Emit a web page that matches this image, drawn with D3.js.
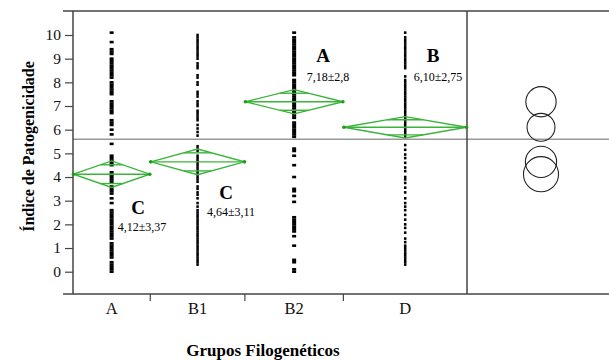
<!DOCTYPE html>
<html>
<head>
<meta charset="utf-8">
<script src="https://cdn.jsdelivr.net/npm/d3@7"></script>
<style>
  body { margin: 0; background: #fff; }
  svg { display: block; font-family: 'Liberation Serif', 'Times New Roman', serif; }
</style>
</head>
<body>
<div id="chart"></div>
<script>
const groups = ['A', 'B1', 'B2', 'D'];
// group sizes (JMP draws the x axis proportional to n)
const groupSizes = [40, 49, 51, 64];
const means = [4.12, 4.64, 7.18, 6.10];
const ciHalf = [0.56, 0.54, 0.51, 0.45];
const circleRadius = [0.74, 0.66, 0.64, 0.59];
const letters = ['C', 'C', 'A', 'B'];
const statLabels = ['4,12±3,37', '4,64±3,11', '7,18±2,8', '6,10±2,75'];
const grandMean = 5.6;
const yTicks = [0, 1, 2, 3, 4, 5, 6, 7, 8, 9, 10];

const valuesA = [10.1, 9.7, 9.4, 9.3, 9.2, 9.0, 8.9, 8.8, 8.7, 8.6, 8.5, 8.4, 8.3, 8.2, 8.0, 7.9, 7.8, 7.7,
  7.6, 7.5, 7.2, 7.1, 7.0, 6.9, 6.8, 6.7, 6.4, 6.3, 6.2, 6.0, 5.8, 5.4, 4.9, 4.8, 4.7, 4.6, 4.5, 4.2,
  4.1, 4.0, 3.9, 3.8, 3.6, 3.5, 3.4, 3.3, 3.1, 2.9, 2.6, 2.5, 2.4, 2.3, 2.2, 2.1, 2.0, 1.9, 1.8, 1.7,
  1.6, 1.5, 1.4, 1.2, 1.1, 1.0, 0.9, 0.8, 0.7, 0.6, 0.4, 0.3, 0.2, 0.1, 0.0];
const valuesB1 = [10.0, 9.9, 9.8, 9.7, 9.6, 9.5, 9.4, 9.3, 9.2, 9.1, 9.0, 8.8, 8.7, 8.6, 8.3, 8.2, 8.0, 7.9,
  7.6, 7.5, 7.4, 7.2, 7.1, 7.0, 6.8, 6.7, 6.6, 6.5, 6.4, 6.2, 6.05, 5.9, 5.75, 5.3, 5.2, 5.1, 4.9, 4.8,
  4.7, 4.6, 4.5, 4.4, 4.3, 4.2, 4.1, 4.0, 3.9, 3.8, 3.6, 3.5, 3.35, 3.25, 3.1, 2.9, 2.75, 2.6, 2.5, 2.4,
  2.3, 2.2, 2.1, 2.0, 1.9, 1.8, 1.7, 1.6, 1.5, 1.4, 1.3, 1.2, 1.1, 1.0, 0.9, 0.8, 0.7, 0.6, 0.5, 0.4, 0.3];
const valuesB2 = [10.1, 9.9, 9.8, 9.7, 9.6, 9.5, 9.4, 9.3, 9.2, 9.1, 9.0, 8.9, 8.8, 8.7, 8.6, 8.5, 8.4, 8.3,
  8.1, 8.0, 7.9, 7.8, 7.7, 7.6, 7.5, 7.4, 7.3, 7.2, 7.1, 7.0, 6.9, 6.8, 6.7, 6.6, 6.5, 6.3, 6.2, 6.1,
  6.0, 5.9, 5.8, 5.7, 5.2, 5.1, 4.9, 4.5, 4.0, 3.5, 3.4, 3.2, 2.95, 2.3, 2.2, 2.1, 2.0, 1.9, 1.8, 1.7,
  1.5, 1.1, 0.5, 0.4, 0.1, 0.0];
const valuesD = [10.1, 9.9, 9.8, 9.7, 9.6, 9.5, 9.4, 9.3, 9.2, 9.1, 9.0, 8.9, 8.8, 8.7, 8.6, 8.25, 8.1, 8.0,
  7.9, 7.8, 7.7, 7.6, 7.5, 7.4, 7.3, 7.2, 7.1, 7.0, 6.9, 6.8, 6.7, 6.6, 6.5, 6.4, 6.3, 6.2, 6.1, 6.0,
  5.9, 5.8, 5.7, 5.35, 5.15, 4.95, 4.8, 4.6, 4.4, 4.25, 4.0, 3.9, 3.75, 3.55, 3.35, 3.1, 2.9, 2.75, 2.6,
  2.4, 2.2, 2.0, 1.85, 1.65, 1.4, 1.25, 1.1, 1.0, 0.9, 0.8, 0.7, 0.6, 0.5, 0.4, 0.3];
const groupValues = [valuesA, valuesB1, valuesB2, valuesD];

const W = 609, H = 360;
const plotLeft = 73, plotRight = 467, plotTop = 11, plotBottom = 294;
const GREEN = '#3cb43c';
const FONT = "'Liberation Serif', 'Times New Roman', serif";
const markW = [4, 2.5, 4, 2.5];

const svg = d3.select('#chart').append('svg').attr('width', W).attr('height', H);

const y = d3.scaleLinear().domain([0, 10]).range([271.7, 35]);
const cum = [0];
groupSizes.forEach((n, i) => cum.push(cum[i] + n));
const x = d3.scaleLinear().domain([0, cum[cum.length - 1]]).range([plotLeft, plotRight]);
const gx0 = (i) => x(cum[i]);
const gx1 = (i) => x(cum[i + 1]);
const gxc = (i) => (gx0(i) + gx1(i)) / 2;

// grand mean line
svg.append('line')
  .attr('x1', plotLeft).attr('x2', W)
  .attr('y1', y(grandMean)).attr('y2', y(grandMean))
  .attr('stroke', '#999').attr('stroke-width', 1.5);

// frame
const frame = svg.append('g').attr('stroke', '#444').attr('stroke-width', 1.5);
frame.append('line').attr('x1', 63).attr('x2', W).attr('y1', plotTop).attr('y2', plotTop);
frame.append('line').attr('x1', 63).attr('x2', W).attr('y1', plotBottom).attr('y2', plotBottom);
frame.append('line').attr('x1', plotLeft).attr('x2', plotLeft).attr('y1', plotTop).attr('y2', plotBottom);
frame.append('line').attr('x1', plotRight).attr('x2', plotRight).attr('y1', plotTop).attr('y2', plotBottom);

// y axis
const yAxis = svg.append('g')
  .attr('transform', `translate(${plotLeft},0)`)
  .call(d3.axisLeft(y).tickValues(yTicks).tickSize(8).tickPadding(4).tickFormat(d3.format('d')));
yAxis.select('.domain').remove();
yAxis.selectAll('line').attr('stroke', '#444').attr('stroke-width', 1.2);
yAxis.selectAll('text').attr('font-size', 15.5).attr('font-family', FONT).attr('fill', '#111');

// x ticks at group boundaries
svg.append('g').selectAll('line')
  .data(cum.slice(1, -1))
  .join('line')
  .attr('x1', (d) => x(d)).attr('x2', (d) => x(d))
  .attr('y1', plotBottom).attr('y2', plotBottom + 7)
  .attr('stroke', '#444').attr('stroke-width', 1.2);

svg.append('g').selectAll('text')
  .data(groups)
  .join('text')
  .attr('x', (d, i) => gxc(i))
  .attr('y', 314)
  .attr('text-anchor', 'middle')
  .attr('font-size', 16.5)
  .attr('fill', '#111')
  .text((d) => d);

// data points
groupValues.forEach((vals, i) => {
  svg.append('g').selectAll('rect')
    .data(vals)
    .join('rect')
    .attr('x', gxc(i) - markW[i] / 2)
    .attr('y', (d) => y(d) - 1.3)
    .attr('width', markW[i])
    .attr('height', 2.6)
    .attr('fill', '#000');
});

// means diamonds
groups.forEach((g, i) => {
  const x0 = gx0(i) + 0.5, x1 = gx1(i) - 0.5, xc = gxc(i);
  const ym = y(means[i]), yt = y(means[i] + ciHalf[i]), yb = y(means[i] - ciHalf[i]);
  const d = svg.append('g').attr('stroke', GREEN).attr('fill', 'none').attr('stroke-width', 1.4);
  d.append('path').attr('d', `M${x0},${ym}L${xc},${yt}L${x1},${ym}L${xc},${yb}Z`);
  d.append('line').attr('x1', x0).attr('x2', x1).attr('y1', ym).attr('y2', ym);
  const ov = ciHalf[i] / Math.SQRT2;
  const hw = ((x1 - x0) / 2) * (1 - 1 / Math.SQRT2);
  [means[i] + ov, means[i] - ov].forEach((v) => {
    d.append('line').attr('x1', xc - hw).attr('x2', xc + hw).attr('y1', y(v)).attr('y2', y(v));
  });
  [x0, x1].forEach((px) => {
    svg.append('circle').attr('cx', px).attr('cy', ym).attr('r', 1.8).attr('fill', '#1f9a1f');
  });
});

// letters and stats
const labelPos = [
  { lx: 138, ly: 214, sx: 142, sy: 231 },
  { lx: 226, ly: 199, sx: 231, sy: 216 },
  { lx: 323, ly: 62, sx: 328, sy: 81 },
  { lx: 433, ly: 62, sx: 438, sy: 81 },
];
groups.forEach((g, i) => {
  svg.append('text')
    .attr('x', labelPos[i].lx).attr('y', labelPos[i].ly)
    .attr('text-anchor', 'middle').attr('font-size', 19).attr('font-weight', 'bold')
    .text(letters[i]);
  svg.append('text')
    .attr('x', labelPos[i].sx).attr('y', labelPos[i].sy)
    .attr('text-anchor', 'middle').attr('font-size', 12)
    .text(statLabels[i]);
});

// comparison circles
const rScale = (r) => y(0) - y(r);
svg.append('g').selectAll('circle')
  .data(groups)
  .join('circle')
  .attr('cx', (plotRight + W) / 2 + 3)
  .attr('cy', (d, i) => y(means[i]))
  .attr('r', (d, i) => rScale(circleRadius[i]))
  .attr('fill', 'none')
  .attr('stroke', '#222')
  .attr('stroke-width', 1.1);

// axis titles
svg.append('text')
  .attr('transform', `translate(34,${(plotTop + plotBottom) / 2 - 6}) rotate(-90)`)
  .attr('text-anchor', 'middle')
  .attr('font-size', 16)
  .attr('font-weight', 'bold')
  .text('Índice de Patogenicidade');

svg.append('text')
  .attr('x', 263).attr('y', 356)
  .attr('text-anchor', 'middle')
  .attr('font-size', 17)
  .attr('font-weight', 'bold')
  .text('Grupos Filogenéticos');
</script>
</body>
</html>
